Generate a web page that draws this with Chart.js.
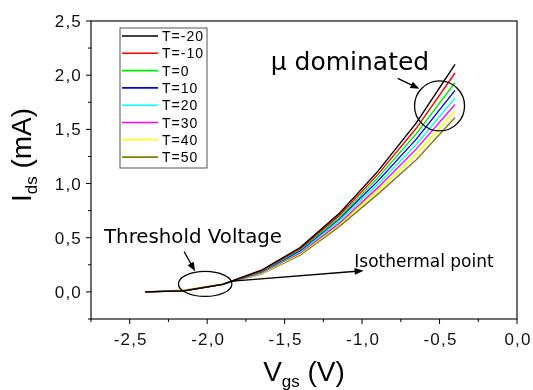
<!DOCTYPE HTML>
<html>
  <head>
    <script src="https://cdn.jsdelivr.net/npm/chart.js"></script>
    <style>
      body { margin: 0; background: #fff; }
    </style>
  </head>
  <body>
    <div style="position: relative; width: 533px; height: 390px;">
      <canvas id="ids-chart" width="533" height="390"></canvas>
    </div>

    <script>
      // gate voltage samples (V)
      const vgs = [-2.4, -2.15, -1.9, -1.65, -1.4, -1.15, -0.9, -0.65, -0.4];
      const tempLabels = ['T=-20', 'T=-10', 'T=0', 'T=10', 'T=20', 'T=30', 'T=40', 'T=50'];
      // drain current (mA) per temperature
      const ids_m20 = [0, 0.010, 0.070, 0.200, 0.410, 0.720, 1.110, 1.560, 2.100];
      const ids_m10 = [0, 0.010, 0.070, 0.195, 0.400, 0.700, 1.080, 1.510, 2.020];
      const ids_0   = [0, 0.010, 0.070, 0.190, 0.390, 0.680, 1.050, 1.460, 1.930];
      const ids_10  = [0, 0.010, 0.070, 0.185, 0.380, 0.670, 1.020, 1.410, 1.860];
      const ids_20  = [0, 0.012, 0.070, 0.180, 0.370, 0.650, 0.990, 1.360, 1.790];
      const ids_30  = [0, 0.012, 0.070, 0.175, 0.360, 0.630, 0.960, 1.320, 1.730];
      const ids_40  = [0, 0.015, 0.072, 0.170, 0.350, 0.620, 0.930, 1.270, 1.670];
      const ids_50  = [0, 0.015, 0.072, 0.165, 0.340, 0.600, 0.900, 1.220, 1.610];
      const xTicks = [-2.5, -2.0, -1.5, -1.0, -0.5, 0.0];
      const yTicks = [0.0, 0.5, 1.0, 1.5, 2.0, 2.5];

      const series = [ids_m20, ids_m10, ids_0, ids_10, ids_20, ids_30, ids_40, ids_50];
      const colors = ['#000000', '#ff0000', '#00ee00', '#0000ff', '#00ffff', '#ff00ff', '#ffff00', '#808000'];

      function fmt(v) {
        return v.toFixed(1).replace('.', ',');
      }

      function arrow(ctx, x1, y1, x2, y2) {
        const ang = Math.atan2(y2 - y1, x2 - x1);
        const len = 9, w = 3.5;
        ctx.beginPath();
        ctx.moveTo(x1, y1);
        ctx.lineTo(x2 - Math.cos(ang) * len * 0.8, y2 - Math.sin(ang) * len * 0.8);
        ctx.stroke();
        ctx.beginPath();
        ctx.moveTo(x2, y2);
        ctx.lineTo(x2 - Math.cos(ang) * len - Math.sin(ang) * w, y2 - Math.sin(ang) * len + Math.cos(ang) * w);
        ctx.lineTo(x2 - Math.cos(ang) * len + Math.sin(ang) * w, y2 - Math.sin(ang) * len - Math.cos(ang) * w);
        ctx.closePath();
        ctx.fill();
      }

      // text with a subscript, centred on 0
      function subText(ctx, main, sub, rest, size, subSize) {
        ctx.font = size + 'px "Liberation Sans"';
        const w1 = ctx.measureText(main).width;
        const w3 = ctx.measureText(rest).width;
        ctx.font = subSize + 'px "Liberation Sans"';
        const w2 = ctx.measureText(sub).width;
        let x = -(w1 + w2 + w3) / 2;
        ctx.textAlign = 'left';
        ctx.font = size + 'px "Liberation Sans"';
        ctx.fillText(main, x, 0);
        x += w1;
        ctx.font = subSize + 'px "Liberation Sans"';
        ctx.fillText(sub, x, 6);
        x += w2;
        ctx.font = size + 'px "Liberation Sans"';
        ctx.fillText(rest, x, 0);
      }

      const deco = {
        id: 'deco',
        afterDraw(chart) {
          const ctx = chart.ctx;
          const a = chart.chartArea;
          const x = chart.scales.x, y = chart.scales.y;
          const X = v => x.getPixelForValue(v);
          const Y = v => y.getPixelForValue(v);
          ctx.save();

          // frame
          ctx.strokeStyle = '#222';
          ctx.lineWidth = 1.3;
          ctx.strokeRect(a.left, a.top, a.right - a.left, a.bottom - a.top);

          // ticks
          ctx.strokeStyle = '#000';
          ctx.lineWidth = 1;
          ctx.beginPath();
          xTicks.forEach(v => {
            ctx.moveTo(X(v), a.bottom); ctx.lineTo(X(v), a.bottom + 5);
            if (v - 0.25 >= x.min - 1e-9) { ctx.moveTo(X(v - 0.25), a.bottom); ctx.lineTo(X(v - 0.25), a.bottom + 3); }
          });
          yTicks.forEach(v => {
            ctx.moveTo(a.left, Y(v)); ctx.lineTo(a.left - 5, Y(v));
            if (v - 0.25 >= y.min - 1e-9) { ctx.moveTo(a.left, Y(v - 0.25)); ctx.lineTo(a.left - 3, Y(v - 0.25)); }
          });
          ctx.stroke();

          // tick labels
          ctx.fillStyle = '#111';
          ctx.font = '17px "Liberation Sans"';
          ctx.letterSpacing = '1.2px';
          ctx.textAlign = 'center';
          xTicks.forEach(v => ctx.fillText(fmt(v), X(v) + 1, a.bottom + 26));
          ctx.textAlign = 'right';
          yTicks.forEach(v => ctx.fillText(fmt(v), a.left - 9, Y(v) + 6));
          ctx.letterSpacing = '0px';

          // axis titles
          ctx.fillStyle = '#000';
          ctx.save();
          ctx.translate(304, 381);
          subText(ctx, 'V', 'gs', ' (V)', 28, 17);
          ctx.restore();
          ctx.save();
          ctx.translate(31, 155);
          ctx.rotate(-Math.PI / 2);
          subText(ctx, 'I', 'ds', ' (mA)', 28, 17);
          ctx.restore();

          // legend
          const lx = a.left + 29, ly = a.top + 7;
          ctx.strokeStyle = '#555';
          ctx.lineWidth = 1;
          ctx.strokeRect(lx, ly, 87, 140);
          ctx.font = '14px "Liberation Sans"';
          ctx.letterSpacing = '1px';
          ctx.textAlign = 'left';
          chart.data.datasets.forEach((ds, i) => {
            const ry = ly + 8 + i * 17.3;
            ctx.strokeStyle = ds.borderColor;
            ctx.lineWidth = 1.6;
            ctx.beginPath();
            ctx.moveTo(lx + 2, ry); ctx.lineTo(lx + 38, ry);
            ctx.stroke();
            ctx.fillStyle = '#000';
            ctx.fillText(ds.label, lx + 42, ry + 5);
          });
          ctx.letterSpacing = '0px';

          // annotations
          ctx.strokeStyle = '#000';
          ctx.fillStyle = '#000';
          ctx.lineWidth = 1.3;
          ctx.font = '25px "DejaVu Sans"';
          ctx.fillText('\u03bc dominated', X(-1.59), Y(2.05));
          arrow(ctx, X(-0.77), Y(1.97), X(-0.63), Y(1.875));
          ctx.beginPath();
          ctx.arc(X(-0.50), Y(1.716), 25, 0, Math.PI * 2);
          ctx.stroke();

          ctx.font = '19.8px "DejaVu Sans"';
          ctx.fillText('Threshold Voltage', X(-2.666), Y(0.452));
          arrow(ctx, X(-2.149), Y(0.372), X(-2.078), Y(0.19));
          ctx.beginPath();
          ctx.ellipse(X(-2.013), Y(0.074), 26.7, 12.5, 0, 0, Math.PI * 2);
          ctx.stroke();

          ctx.font = '17px "DejaVu Sans"';
          ctx.fillText('Isothermal point', X(-1.05), Y(0.231));
          arrow(ctx, X(-1.836), Y(0.10), X(-0.99), Y(0.196));

          ctx.restore();
        }
      };

      const ids_context = document.getElementById('ids-chart');
      const ids_chart = new Chart(ids_context, {
        type: 'line',
        data: {
          datasets: series.map((s, i) => ({
            label: tempLabels[i],
            data: vgs.map((v, j) => ({ x: v, y: s[j] })),
            borderColor: colors[i],
            borderWidth: 1.4,
            pointRadius: 0,
            tension: 0,
            fill: false
          }))
        },
        options: {
          responsive: false,
          animation: false,
          layout: { autoPadding: false, padding: { left: 0, right: 16, top: 21, bottom: 0 } },
          plugins: { legend: { display: false }, tooltip: { enabled: false } },
          scales: {
            x: {
              type: 'linear', min: -2.75, max: 0,
              afterBuildTicks: s => { s.ticks = xTicks.map(v => ({ value: v })); },
              afterFit: s => { s.height = 71; },
              ticks: { display: false },
              grid: { display: false },
              border: { display: false }
            },
            y: {
              type: 'linear', min: -0.25, max: 2.5,
              afterBuildTicks: s => { s.ticks = yTicks.map(v => ({ value: v })); },
              afterFit: s => { s.width = 91; },
              ticks: { display: false },
              grid: { display: false },
              border: { display: false }
            }
          }
        },
        plugins: [deco]
      });
    </script>
  </body>
</html>
